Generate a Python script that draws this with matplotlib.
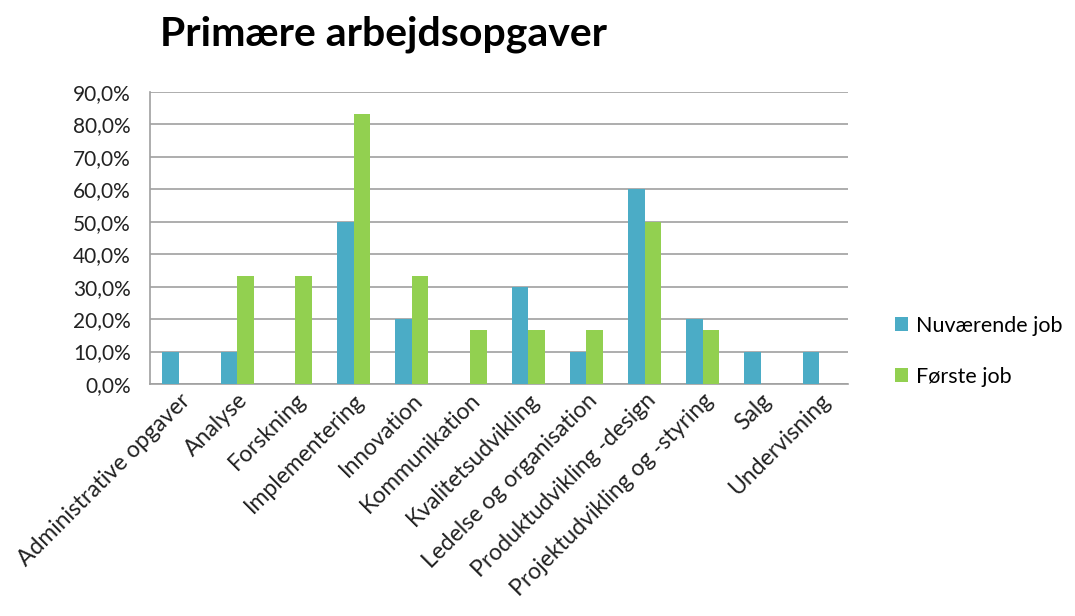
#! /usr/bin/env python3
import numpy as np
import matplotlib.pyplot as plt
from matplotlib.ticker import FuncFormatter

plt.rcParams['font.family'] = ['Lato', 'DejaVu Sans']

# categories and shares (%)
kategorier = ['Administrative opgaver', 'Analyse', 'Forskning', 'Implementering',
              'Innovation', 'Kommunikation', 'Kvalitetsudvikling',
              'Ledelse og organisation', 'Produktudvikling -design',
              'Projektudvikling og -styring', 'Salg', 'Undervisning']
nuvaerende = [10.0, 10.0, 0.0, 50.0, 20.0, 0.0, 30.0, 10.0, 60.0, 20.0, 10.0, 10.0]
foerste = [0.0, 33.3, 33.3, 83.3, 33.3, 16.7, 16.7, 16.7, 50.0, 16.7, 0.0, 0.0]
serier = ['Nuværende job', 'Første job']

fig = plt.figure(figsize=(10.75, 6.16), dpi=100)
ax = fig.add_axes([0.1395, 0.3766, 0.6495, 0.474])

x = np.arange(len(kategorier))
w = 0.285
ax.bar(x - w/2, nuvaerende, w, color='#4BACC6', label=serier[0], zorder=3)
ax.bar(x + w/2, foerste, w, color='#92D050', label=serier[1], zorder=3)

ax.set_xlim(-0.5, len(kategorier) - 0.5)
ax.set_ylim(0, 90)
ax.set_yticks(np.arange(0, 91, 10))
ax.yaxis.set_major_formatter(FuncFormatter(lambda v, p: f'{v:.1f}%'.replace('.', ',')))
ax.yaxis.grid(True, color='#A0A0A0', linewidth=1.2, zorder=0)
ax.tick_params(axis='y', length=0, labelsize=15, colors='#222222', pad=14)
ax.tick_params(axis='x', length=0, labelsize=16.5, colors='#222222', pad=4)
ax.set_xticks(x)
ax.set_xticklabels(kategorier, rotation=45, ha='right', rotation_mode='anchor')

for s in ['top', 'right']:
    ax.spines[s].set_visible(False)
for s in ['left', 'bottom']:
    ax.spines[s].set_color('#A0A0A0')
    ax.spines[s].set_linewidth(1.2)

fig.text(0.149, 0.945, 'Primære arbejdsopgaver', fontsize=29.5, fontweight='bold',
         ha='left', va='center')

fig.legend(loc='center left', bbox_to_anchor=(0.815, 0.43), frameon=False,
           fontsize=15.5, handlelength=0.6, handleheight=0.6, handletextpad=0.35,
           labelspacing=1.45)

fig.savefig('out.png', dpi=100)
